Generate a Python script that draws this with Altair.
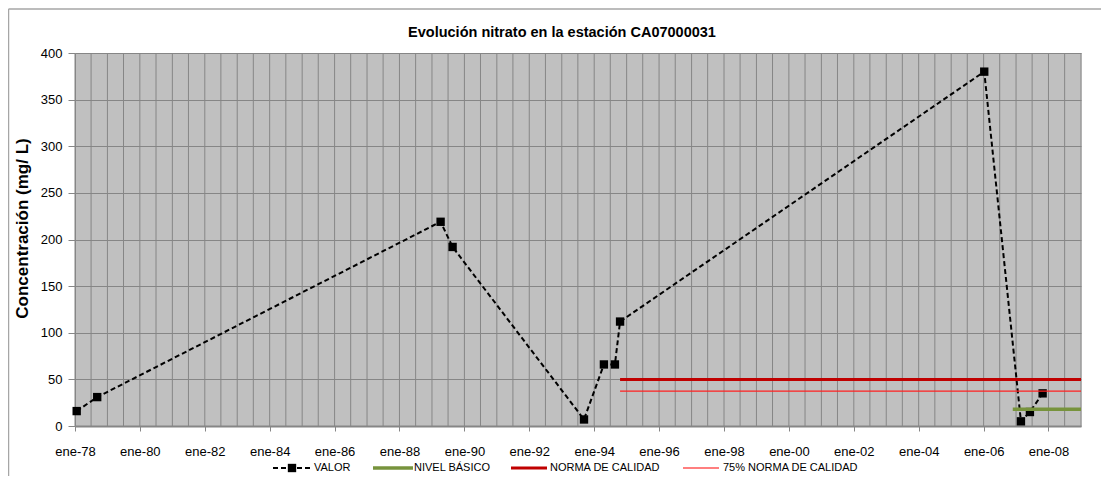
import altair as alt
import pandas as pd

# ---- data ----
valor_dates = ["1978-01-20", "1978-09-08", "1989-04-08", "1989-08-21", "1993-09-08",
               "1994-04-20", "1994-08-22", "1994-10-19", "2006-01-08", "2007-02-25",
               "2007-06-06", "2007-10-27"]
valor_values = [16, 31, 219, 192, 7, 66, 66, 112, 380, 5, 15, 35]

nivel_dates = ["2006-11-25", "2009-01-01"]
nivel_values = [18, 18]

norma_dates = ["1994-10-19", "2009-01-01"]
norma_values = [50, 50]
norma75_values = [37.5, 37.5]

y_ticks = [0, 50, 100, 150, 200, 250, 300, 350, 400]
x_start, x_end = "1978-01-01", "2009-01-01"

legend_labels = ["VALOR", "NIVEL BÁSICO", "NORMA DE CALIDAD", "75% NORMA DE CALIDAD"]
title_text = "Evolución nitrato en la estación CA07000031"
y_title = "Concentración (mg/ L)"


def ms(s):
    return int(pd.Timestamp(s, tz="UTC").timestamp() * 1000)


X0, X1 = ms(x_start), ms(x_end)
grid_vals = [ms(d) for d in pd.date_range(x_start, x_end, freq="6MS")]

valor_df = pd.DataFrame({"t": [ms(d) for d in valor_dates], "v": valor_values})
nivel_df = pd.DataFrame({"t": [ms(d) for d in nivel_dates], "v": nivel_values})
norma_df = pd.DataFrame({"t": [ms(d) for d in norma_dates], "v": norma_values})
norma75_df = pd.DataFrame({"t": [ms(d) for d in norma_dates], "v": norma75_values})
grid_df = pd.DataFrame({"t": grid_vals})
one = pd.DataFrame({"k": [0]})

SANS = "Liberation Sans, Arial"
GRID = "#868686"

label_test = f"utcmonth(datum.value) == 0 && utcyear(datum.value) % 2 == 0 && datum.value < {X1}"
label_vals = [v for v in grid_vals
              if pd.Timestamp(v, unit="ms").month == 1 and pd.Timestamp(v, unit="ms").year % 2 == 0 and v < X1]

x_enc = alt.X(
    "t:Q",
    scale=alt.Scale(domain=[X0, X1], nice=False, zero=False),
    axis=alt.Axis(
        values=label_vals,
        grid=False,
        domainColor=GRID, domainWidth=2,
        tickColor=GRID, tickSize=5,
        labelExpr="'ene-' + utcFormat(datum.value, '%y')",
        labelFont=SANS, labelFontSize=13, labelColor="#000000",
        labelBaseline="alphabetic", labelPadding=24, labelOverlap=False,
        labelAlign="center", title=None,
    ),
)
y_enc = alt.Y(
    "v:Q",
    scale=alt.Scale(domain=[0, 400], nice=False),
    axis=alt.Axis(
        values=y_ticks,
        grid=True, gridColor=GRID, gridWidth=1,
        domainColor=GRID, domainWidth=1,
        tickColor=GRID, tickSize=7, labelPadding=6,
        labelFont=SANS, labelFontSize=13, labelColor="#000000",
        title=y_title, titleFont=SANS, titleFontSize=17, titleFontWeight="bold",
        titleColor="#000000", titleAngle=270, titleX=-48, titleY=175,
        titleAlign="center", titleBaseline="alphabetic",
    ),
)

# vertical semi-annual gridlines
vgrid = alt.Chart(grid_df).mark_rule(color=GRID, strokeWidth=1).encode(
    x=x_enc, y=alt.value(0), y2=alt.value(373))

valor_line = alt.Chart(valor_df).mark_line(
    color="#000000", strokeWidth=2, strokeDash=[5, 3]
).encode(x="t:Q", y=y_enc)
valor_pts = alt.Chart(valor_df).mark_point(
    shape="square", filled=True, color="#000000", size=70, opacity=1
).encode(x="t:Q", y="v:Q")
norma_line = alt.Chart(norma_df).mark_line(color="#c00000", strokeWidth=3).encode(x="t:Q", y="v:Q")
norma75_line = alt.Chart(norma75_df).mark_line(color="#ff2020", strokeWidth=1.3).encode(x="t:Q", y="v:Q")
nivel_line = alt.Chart(nivel_df).mark_line(color="#77933c", strokeWidth=3.5).encode(x="t:Q", y="v:Q")

# ---- frame and title ----
frame_color = "#a6a6a6"
frame_top = alt.Chart(one).mark_rule(color=frame_color, strokeWidth=1.5).encode(
    x=alt.value(-66.5), x2=alt.value(1040), y=alt.value(-44))
frame_left = alt.Chart(one).mark_rule(color=frame_color, strokeWidth=1.5).encode(
    x=alt.value(-66.5), y=alt.value(-44), y2=alt.value(430))
title = alt.Chart(one).mark_text(
    text=title_text, font=SANS, fontSize=14.5, fontWeight="bold", color="#000000",
    align="center", baseline="alphabetic"
).encode(x=alt.value(487), y=alt.value(-16))

# ---- manual legend ----
LY = 415
leg = []
leg.append(alt.Chart(one).mark_rule(color="#000000", strokeWidth=2, strokeDash=[5, 3]).encode(
    x=alt.value(198), x2=alt.value(237), y=alt.value(LY)))
leg.append(alt.Chart(one).mark_point(shape="square", filled=True, color="#000000", size=70, opacity=1).encode(
    x=alt.value(217), y=alt.value(LY)))
leg.append(alt.Chart(one).mark_rule(color="#77933c", strokeWidth=3.5).encode(
    x=alt.value(298), x2=alt.value(338), y=alt.value(LY)))
leg.append(alt.Chart(one).mark_rule(color="#c00000", strokeWidth=3).encode(
    x=alt.value(436), x2=alt.value(472), y=alt.value(LY)))
leg.append(alt.Chart(one).mark_rule(color="#ff0000", strokeWidth=1.2).encode(
    x=alt.value(608), x2=alt.value(644), y=alt.value(LY)))
for lab, lx in zip(legend_labels, [239, 339, 475, 648]):
    leg.append(alt.Chart(one).mark_text(
        text=lab, font=SANS, fontSize=11, color="#000000", align="left", baseline="middle"
    ).encode(x=alt.value(lx), y=alt.value(LY)))

chart = alt.layer(
    vgrid, valor_line, valor_pts, norma_line, norma75_line, nivel_line,
    frame_top, frame_left, title, *leg
).properties(
    width=1006, height=373,
    autosize=alt.AutoSizeParams(type="none"),
    padding={"left": 67, "top": 45, "right": 20, "bottom": 50},
    background="#ffffff",
).configure_view(fill="#c0c0c0", strokeOpacity=0)

chart.save("out.html", embed_options={"renderer": "svg", "actions": False})
